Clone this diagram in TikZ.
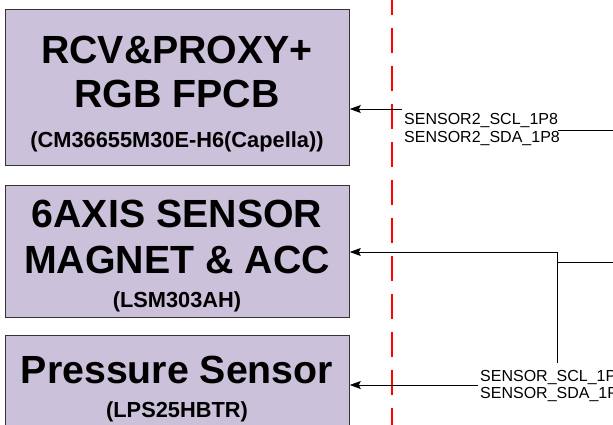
\documentclass[tikz,border=0pt]{standalone}
\usepackage{fontspec}
\setmainfont{Liberation Sans}
\usetikzlibrary{arrows.meta, positioning}
\definecolor{boxfill}{HTML}{CCC1DA}

\begin{document}
\begin{tikzpicture}
  [
    x=1pt, y=-1pt,
    Block/.style={rectangle, draw=black!80, fill=boxfill, line width=0.8pt, inner sep=0pt, minimum width=344pt, anchor=north west},
    Title/.style={anchor=base, inner sep=0pt, font=\fontsize{39.3}{40}\selectfont\bfseries},
    Part/.style={anchor=base, inner sep=0pt, font=\fontsize{21.8}{22}\selectfont\bfseries},
    Net/.style={anchor=base west, inner sep=0pt, font=\fontsize{16}{17}\selectfont},
    Wire/.style={line width=0.9pt, draw=black},
    Cut/.style={draw=red, line width=2.6pt, dash pattern=on 25pt off 13pt}
  ]
  \useasboundingbox (0,0) rectangle (613,424);
  \clip (0,0) rectangle (613,424);
  % Blocks
  \node[Block, minimum height=156pt] (rcv) at (5,9) {};
  \node[Block, minimum height=132pt] (axis) at (5,185) {};
  \node[Block, minimum height=130pt] (press) at (5,335) {};
  \node[Title] (rcvA) at (177,63) {RCV\&PROXY+};
  \node[Title] (rcvB) at (177,107) {RGB FPCB};
  \node[Part] (rcvC) at (177,147) {(CM36655M30E-H6(Capella))};
  \node[Title] (axisA) at (177,227) {6AXIS SENSOR};
  \node[Title] (axisB) at (177,273) {MAGNET \& ACC};
  \node[Part] (axisC) at (177,307) {(LSM303AH)};
  \node[Title] (pressA) at (177,383) {Pressure Sensor};
  \node[Part] (pressC) at (177,417) {(LPS25HBTR)};
  % Net names
  \node[Net] (scl2) at (404,124) {SENSOR2\_SCL\_1P8};
  \node[Net] (sda2) at (404,142) {SENSOR2\_SDA\_1P8};
  \node[Net] (scl) at (480,381) {SENSOR\_SCL\_1P8};
  \node[Net] (sda) at (480,398) {SENSOR\_SDA\_1P8};
  % Cut line
  \coordinate (cutT) at (392,-10);
  \coordinate (cutB) at (392,440);
  \path[Cut] (cutT) -- (cutB);
  % Lines
  \coordinate (in2) at (402,109);
  \coordinate (bus2) at (558,130);
  \coordinate (bus2R) at (620,130);
  \coordinate (tap) at (557,252);
  \coordinate (tapE) at (557,363);
  \coordinate (bus) at (557,262);
  \coordinate (busR) at (620,262);
  \coordinate (in) at (478,385);
  \path [Wire, -{Stealth[length=11pt, width=8pt, inset=2pt]}] (in2) -- (rcv.east |- in2);
  \path [Wire] (bus2) -- (bus2R);
  \path [Wire, -{Stealth[length=11pt, width=8pt, inset=2pt]}] (tap) -- (axis.east |- tap);
  \path [Wire] (tap) -- (tapE);
  \path [Wire] (bus) -- (busR);
  \path [Wire, -{Stealth[length=11pt, width=8pt, inset=2pt]}] (in) -- (press.east |- in);
\end{tikzpicture}
\end{document}
